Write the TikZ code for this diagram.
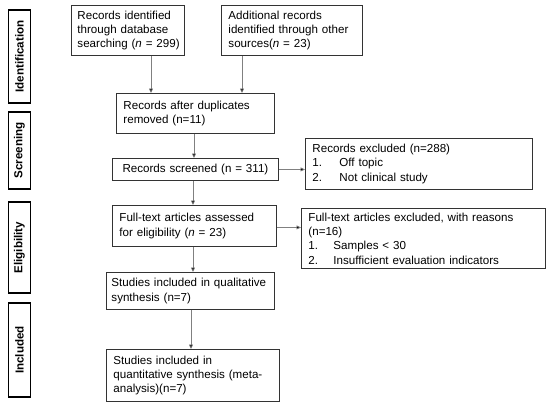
\documentclass[tikz,border=0pt]{standalone}
\usepackage{fontspec}
\setmainfont{Liberation Sans}
\usetikzlibrary{arrows.meta}
\newcommand\fs{\fontsize{11.6pt}{14.3pt}\selectfont}
\definecolor{boxc}{HTML}{333333}
\definecolor{arrc}{HTML}{808080}
\tikzset{
  box/.style={draw=boxc, line width=0.9pt, anchor=north west, inner xsep=7pt, inner ysep=0pt, align=left, font=\fs},
  stage/.style={draw=black, line width=1.8pt, rotate=90, inner sep=0pt, minimum height=22pt, font=\fs\bfseries},
  arr/.style={draw=arrc, line width=0.7pt, -{Triangle[length=4.5pt,width=4pt,fill=black]}},
}
\begin{document}
\begin{tikzpicture}[x=1pt,y=-1pt]
\useasboundingbox[fill=white] (0,0) rectangle (550,405);
% stage labels
\node[stage, minimum width=93pt] (s1) at (19.5,56.5) {Identification};
\node[stage, minimum width=77pt] (s2) at (19.5,150.5) {Screening};
\node[stage, minimum width=91pt] (s3) at (19.5,247.5) {Eligibility};
\node[stage, minimum width=94pt] (s4) at (19.5,350) {Included};
% boxes
\node[box, text width=101pt, inner xsep=6pt, minimum height=50pt] (b1) at (71,5) {Records identified\\through database\\\mbox{searching (\textit{n} = 299)}};
\node[box, text width=127pt, minimum height=50pt] (b2) at (221,5) {Additional records\\\mbox{identified through other}\\sources(\textit{n} = 23)};
\node[box, text width=144pt, minimum height=40pt] (b3) at (116,93) {Records after duplicates\\removed (n=11)};
\node[box, text width=166pt, minimum height=22pt, inner xsep=0pt, align=center] (scr) at (112,158) {Records screened (n = 311)};
\node[box, text width=213pt, minimum height=51pt] (exc1) at (305,138) {Records excluded (n=288)\\\makebox[27pt][l]{1.}Off topic\\\makebox[27pt][l]{2.}Not clinical study};
\node[box, text width=150pt, minimum height=41pt] (ass) at (112,205) {Full-text articles assessed\\for eligibility (\textit{n} = 23)};
\node[box, text width=230pt, minimum height=60pt] (exc2) at (301,208) {Full-text articles excluded, with reasons\\(n=16)\\\makebox[25pt][l]{1.}Samples {\textless} 30\\\makebox[25pt][l]{2.}Insufficient evaluation indicators};
\node[box, text width=158pt, minimum height=37pt, inner xsep=5pt] (qual) at (106,272) {\mbox{Studies included in qualitative}\\synthesis (n=7)};
\node[box, text width=159pt, minimum height=52pt] (quant) at (106,349) {Studies included in\\quantitative synthesis (meta-\\analysis)(n=7)};
% arrows
\draw[arr] ([xshift=80pt]b1.south west) -- ([xshift=80pt]b1.south west |- b3.north);
\draw[arr] ([xshift=21pt]b2.south west) -- ([xshift=21pt]b2.south west |- b3.north);
\draw[arr] ([xshift=78pt]b3.south west) -- ([xshift=78pt]b3.south west |- scr.north);
\draw[arr] ([xshift=81pt]scr.south west) -- ([xshift=81pt]scr.south west |- ass.north);
\draw[arr] ([xshift=81pt]ass.south west) -- ([xshift=81pt]ass.south west |- qual.north);
\draw[arr] ([xshift=85pt]qual.south west) -- ([xshift=85pt]qual.south west |- quant.north);
\draw[arr] (scr.east) -- (scr.east -| exc1.west);
\draw[arr] ([yshift=-1.5pt]ass.east) -- ([yshift=-1.5pt]ass.east -| exc2.west);
\end{tikzpicture}
\end{document}
